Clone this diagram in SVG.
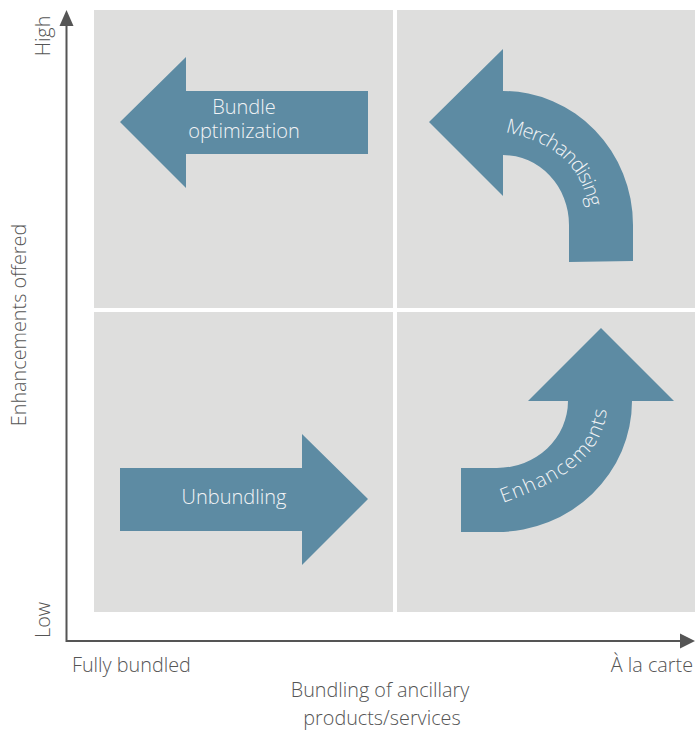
<svg xmlns="http://www.w3.org/2000/svg" width="695" height="732" viewBox="0 0 695 732">
  <style>
    .quad { fill: #dededd; }
    .arrow { fill: #5d8ba3; }
    .axis { stroke: #555555; stroke-width: 2; fill: none; }
    .axis-head { fill: #555555; }
    .lbl { font-family: "Open Sans", "Noto Sans", sans-serif; font-size: 19.8px; font-weight: 300; fill: #555555; }
    .in { font-family: "Open Sans", "Noto Sans", sans-serif; font-size: 20px; font-weight: 300; fill: #f2f4f6; }
  </style>
  <defs>
    <!-- baselines for the curved arrow labels -->
    <path id="merch-base" d="M 505,132 C 554,143 581,163 590,212" fill="none"/>
    <path id="enh-base" d="M 503,503 C 555,484 605,460 607,405" fill="none"/>
  </defs>

  <rect width="695" height="732" fill="#ffffff"/>

  <!-- quadrant panels -->
  <g id="quadrants">
    <rect class="quad" x="94" y="10" width="299" height="298"/>
    <rect class="quad" x="397" y="10" width="298" height="298"/>
    <rect class="quad" x="94" y="312" width="299" height="300"/>
    <rect class="quad" x="397" y="312" width="298" height="300"/>
  </g>

  <!-- axes -->
  <g id="axes">
    <path class="axis" d="M 66.5,24 L 66.5,641 L 682,641"/>
    <polygon class="axis-head" points="66.5,10 59.5,26 73.5,26"/>
    <polygon class="axis-head" points="695,641 680,633.5 680,648.5"/>
  </g>

  <g id="axis-labels">
    <text class="lbl" text-anchor="middle" transform="translate(50,36) rotate(-90)">High</text>
    <text class="lbl" text-anchor="middle" transform="translate(50,620) rotate(-90)">Low</text>
    <text class="lbl" text-anchor="middle" transform="translate(26,325) rotate(-90)">Enhancements offered</text>
    <text class="lbl" x="72" y="672">Fully bundled</text>
    <text class="lbl" x="693" y="672" text-anchor="end">À la carte</text>
    <text class="lbl" x="380" y="697" text-anchor="middle">Bundling of ancillary</text>
    <text class="lbl" x="382" y="725" text-anchor="middle">products/services</text>
  </g>

  <!-- top-left: bundle optimization -->
  <g id="bundle-optimization">
    <polygon class="arrow" points="120,122 186,57 186,91 368,91 368,154 186,154 186,188"/>
    <text class="in" x="244" y="114" text-anchor="middle">Bundle</text>
    <text class="in" x="244" y="138" text-anchor="middle">optimization</text>
  </g>

  <!-- top-right: merchandising -->
  <g id="merchandising">
    <path class="arrow" d="M 429,122 L 503,49 L 503,91 A 130 134 0 0 1 633,225 L 633,261 L 569,262 L 569,225 A 66 70 0 0 0 503,155 L 503,196 Z"/>
    <text class="in"><textPath href="#merch-base" textLength="121" lengthAdjust="spacing">Merchandising</textPath></text>
  </g>

  <!-- bottom-left: unbundling -->
  <g id="unbundling">
    <polygon class="arrow" points="120,468 302,468 302,434 368,499 302,565 302,531 120,531"/>
    <text class="in" x="234" y="504" text-anchor="middle">Unbundling</text>
  </g>

  <!-- bottom-right: enhancements -->
  <g id="enhancements">
    <path class="arrow" d="M 461,468 L 497,468 A 71 67 0 0 0 568,401 L 528,401 L 601,328 L 674,401 L 632,401 A 135 131 0 0 1 497,532 L 461,532 Z"/>
    <text class="in"><textPath href="#enh-base" textLength="148" lengthAdjust="spacing">Enhancements</textPath></text>
  </g>
</svg>
